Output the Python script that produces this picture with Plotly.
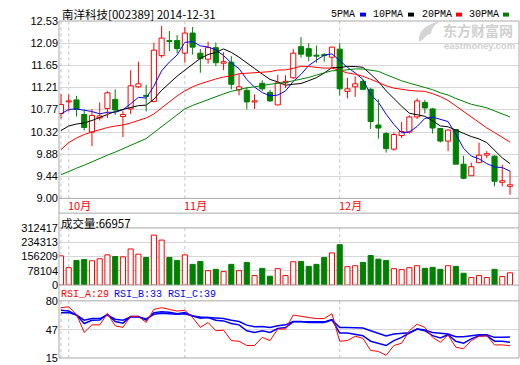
import plotly.graph_objects as go
import pandas as pd

# ---------------- data ----------------
opens = [10.69, 10.92, 10.96, 10.67, 10.32, 10.60, 10.79, 10.97, 10.63, 10.78,
         11.22, 11.05, 10.93, 11.84, 12.14, 12.14, 11.89, 12.29, 11.89, 11.77,
         12.00, 11.69, 11.71, 11.16, 11.15, 10.92, 11.29, 11.11, 10.86, 11.30,
         11.40, 12.02, 11.98, 11.85, 11.86, 11.81, 11.97, 11.13, 11.22, 11.33,
         11.17, 10.46, 10.29, 9.98, 10.25, 10.32, 10.62, 10.91, 10.78, 10.39,
         10.14, 10.37, 9.68, 9.45, 9.71, 9.86, 9.84, 9.32, 9.24]
highs = [11.07, 11.07, 11.04, 10.77, 10.78, 10.91, 11.13, 11.17, 10.74, 11.55,
         11.72, 11.26, 12.10, 12.43, 12.33, 12.25, 12.41, 12.41, 11.97, 12.12,
         12.10, 11.91, 11.83, 11.47, 11.21, 11.07, 11.35, 11.16, 11.46, 11.45,
         11.97, 12.21, 12.09, 12.04, 11.89, 12.02, 12.09, 11.40, 11.43, 11.37,
         11.20, 10.97, 10.32, 10.31, 10.52, 10.65, 10.99, 10.96, 10.80, 10.40,
         10.37, 10.38, 9.85, 9.71, 10.11, 9.94, 9.86, 9.67, 9.55]
lows = [10.59, 10.73, 10.63, 10.35, 10.04, 10.55, 10.60, 10.66, 10.22, 10.68,
        11.20, 10.73, 10.91, 11.80, 11.93, 11.89, 11.70, 11.86, 11.50, 11.68,
        11.63, 11.55, 11.17, 11.05, 10.77, 10.78, 11.14, 10.92, 10.86, 11.20,
        11.38, 11.80, 11.73, 11.70, 11.72, 11.60, 11.05, 10.99, 11.02, 11.15,
        10.38, 10.19, 9.91, 9.95, 10.20, 10.29, 10.58, 10.69, 10.29, 10.11,
        9.94, 9.68, 9.38, 9.45, 9.70, 9.80, 9.24, 9.24, 9.07]
closes = [10.87, 10.94, 10.77, 10.41, 10.65, 10.64, 11.10, 10.76, 10.67, 11.24,
          11.28, 11.03, 11.95, 12.19, 12.12, 11.98, 12.29, 12.01, 11.78, 12.00,
          11.70, 11.72, 11.27, 11.22, 10.92, 10.94, 11.18, 10.94, 11.30, 11.33,
          11.89, 11.87, 11.83, 11.83, 11.84, 12.01, 11.18, 11.18, 11.28, 11.17,
          10.53, 10.40, 9.99, 10.27, 10.33, 10.62, 10.94, 10.80, 10.40, 10.14,
          10.36, 9.68, 9.40, 9.63, 9.86, 9.89, 9.34, 9.35, 9.27]
volumes = [159800, 95200, 134700, 140000, 132900, 143600, 165200, 156200, 154400, 197500,
           168800, 150800, 272900, 246000, 150800, 134700, 165200, 113100, 129300, 79000,
           86200, 73600, 113100, 79000, 123900, 52000, 91600, 48500, 89800, 52000,
           127500, 129300, 102300, 113100, 150800, 176000, 220800, 100500, 105900, 123900,
           161600, 141800, 134700, 89800, 84400, 95200, 105900, 91600, 97000, 86200,
           105900, 102300, 64600, 41300, 52000, 41300, 86200, 46700, 66957]

# moving-average values visible before enough candles exist
ma5_head = [10.68, 10.77, 10.78, 10.75]
ma10_head = [10.35, 10.44, 10.48, 10.50, 10.55, 10.61, 10.68, 10.73, 10.77]
ma20_head = [9.97, 10.11, 10.20, 10.27, 10.32, 10.37, 10.41, 10.44, 10.46, 10.50,
             10.55, 10.60, 10.68, 10.80, 10.92, 11.04, 11.14, 11.22, 11.28]
ma30_head = [9.47, 9.54, 9.60, 9.66, 9.73, 9.79, 9.86, 9.92, 9.99, 10.05,
             10.12, 10.19, 10.31, 10.43, 10.55, 10.67, 10.78, 10.85, 10.91, 10.97,
             11.03, 11.08, 11.13, 11.17, 11.20, 11.22, 11.25, 11.27, 11.29]

rsi_a = [72.2, 73.3, 64.7, 44.1, 52.7, 52.7, 65.4, 51.6, 49.8, 62.4,
         62.4, 55.4, 70.3, 72.2, 70.3, 68.4, 69.2, 61.0, 49.8, 55.4,
         46.0, 46.7, 34.8, 34.1, 29.2, 29.2, 38.5, 34.8, 47.9, 47.9,
         63.9, 62.1, 61.0, 59.8, 59.8, 65.4, 34.1, 34.8, 39.7, 37.4,
         23.6, 22.5, 18.0, 29.2, 31.8, 46.0, 53.5, 49.8, 38.5, 32.9,
         41.1, 27.3, 25.5, 34.8, 39.7, 40.4, 29.9, 29.9, 29]
rsi_b = [69.2, 68.4, 63.9, 54.2, 58.0, 58.3, 64.7, 56.5, 54.6, 62.1,
         62.1, 58.0, 66.6, 67.7, 66.9, 65.4, 66.6, 62.8, 60.2, 61.0,
         58.0, 57.2, 54.2, 52.7, 46.0, 44.1, 46.0, 44.1, 48.6, 49.7,
         56.1, 56.1, 56.1, 56.1, 56.1, 58.7, 43.4, 43.4, 42.3, 40.4,
         34.1, 31.8, 29.2, 34.8, 38.5, 43.4, 47.9, 46.0, 40.4, 37.8,
         41.5, 34.1, 31.8, 36.7, 40.4, 40.4, 34.1, 34.1, 33]
rsi_c = [66.6, 66.6, 63.9, 58.0, 59.8, 59.8, 63.9, 59.1, 58.0, 61.7,
         61.7, 59.5, 64.7, 65.8, 65.4, 64.7, 65.4, 62.8, 61.7, 61.3,
         60.2, 59.8, 58.0, 56.5, 52.4, 50.5, 50.9, 49.7, 51.6, 52.7,
         56.5, 56.5, 55.3, 55.3, 55.3, 58.3, 49.7, 49.7, 49.7, 49.0,
         46.0, 43.0, 40.0, 42.3, 43.0, 43.8, 47.9, 46.8, 44.1, 43.0,
         42.3, 39.3, 39.3, 40.4, 41.5, 41.5, 38.5, 38.5, 39]

price_ticks = [12.53, 12.09, 11.65, 11.21, 10.77, 10.32, 9.88, 9.44, 9.00]
vol_ticks = [0, 78104, 156209, 234313, 312417]
rsi_ticks = [15, 47, 80]
month_labels = ["10月", "11月", "12月"]
month_starts = [1, 16, 36]
divider_idx = [0, 1, 16, 36]
stock_title = "南洋科技[002389] 2014-12-31"
ma_names = ["5PMA", "10PMA", "20PMA", "30PMA"]

# ---------------- derived ----------------
n = len(closes)
idx = list(range(n))
RED, GREEN, BLUE, BLACK = "#ff0000", "#008000", "#0000ff", "#000000"
ma_colors = [BLUE, BLACK, RED, GREEN]


def moving(head, period):
    vals = pd.Series(closes).rolling(period).mean().tolist()
    for i, v in enumerate(head):
        vals[i] = v
    return vals


mas = [moving(ma5_head, 5), moving(ma10_head, 10), moving(ma20_head, 20), moving(ma30_head, 30)]

up = [c >= o for o, c in zip(opens, closes)]
body_lo = [min(o, c) for o, c in zip(opens, closes)]
body_h = [max(abs(c - o), 0.01) for o, c in zip(opens, closes)]

# pixel helpers (figure 520x365, plot area x 59..519, y 21..363)
L, R, T, B = 59, 519, 21, 363


def px(x):
    return (x - L) / (R - L)


def py(y):
    return (B - y) / (B - T)


fig = go.Figure()

# MA lines
for name, vals, col in zip(ma_names, mas, ma_colors):
    fig.add_trace(go.Scatter(x=idx, y=vals, mode="lines", line=dict(color=col, width=1),
                             xaxis="x", yaxis="y", hoverinfo="skip"))

# candle bodies
fig.add_trace(go.Bar(x=idx, y=body_h, base=body_lo, width=0.66,
                     marker=dict(color=["#ffffff" if u else GREEN for u in up],
                                 line=dict(color=[RED if u else GREEN for u in up], width=1)),
                     xaxis="x", yaxis="y", hoverinfo="skip"))

# wicks (outside the body)
for want, col in ((True, RED), (False, GREEN)):
    wx, wy = [], []
    for i in idx:
        if up[i] != want:
            continue
        lo_b = body_lo[i]
        hi_b = body_lo[i] + body_h[i]
        wx += [i, i, None, i, i, None]
        wy += [lows[i], lo_b, None, hi_b, highs[i], None]
    fig.add_trace(go.Scatter(x=wx, y=wy, mode="lines", line=dict(color=col, width=1),
                             xaxis="x", yaxis="y", hoverinfo="skip", connectgaps=False))

# volume
fig.add_trace(go.Bar(x=idx, y=volumes, width=0.66,
                     marker=dict(color=["#ffffff" if u else GREEN for u in up],
                                 line=dict(color=[RED if u else GREEN for u in up], width=1)),
                     xaxis="x", yaxis="y2", hoverinfo="skip"))

# RSI
fig.add_trace(go.Scatter(x=idx, y=rsi_c, mode="lines", line=dict(color=BLUE, width=1.5),
                         xaxis="x", yaxis="y3", hoverinfo="skip"))
fig.add_trace(go.Scatter(x=idx, y=rsi_b, mode="lines", line=dict(color=BLUE, width=1.5),
                         xaxis="x", yaxis="y3", hoverinfo="skip"))
fig.add_trace(go.Scatter(x=idx, y=rsi_a, mode="lines", line=dict(color=RED, width=1),
                         xaxis="x", yaxis="y3", hoverinfo="skip"))

GRID = "#d6d6d6"
BORDER = "#a8a8a8"
tickfont = dict(family="Liberation Sans, Arial", size=11, color="#000000")

common_y = dict(showline=False, zeroline=False, ticks="", tickfont=tickfont,
                showgrid=True, gridcolor=GRID, gridwidth=1, fixedrange=True)

fig.update_layout(
    width=520, height=365,
    margin=dict(l=L, r=520 - R, t=T, b=365 - B, pad=0),
    paper_bgcolor="#ffffff", plot_bgcolor="#ffffff",
    showlegend=False, barmode="overlay",
    xaxis=dict(range=[-0.258, 59.16], showticklabels=False, showgrid=False,
               zeroline=False, showline=False, ticks="", fixedrange=True),
    yaxis=dict(domain=[py(201), py(21)], range=[9.00, 12.53],
               tickvals=price_ticks, ticktext=[f"{v:.2f}" for v in price_ticks], **common_y),
    yaxis2=dict(domain=[py(289), py(231)], range=[0, 312417],
                tickvals=vol_ticks, ticktext=[str(v) for v in vol_ticks], **common_y),
    yaxis3=dict(domain=[py(363), py(305)], range=[15, 80],
                tickvals=rsi_ticks, ticktext=[str(v) for v in rsi_ticks], **common_y),
)

shapes = []
# frame and separators
shapes.append(dict(type="rect", xref="paper", yref="paper", x0=0, x1=1, y0=0, y1=1,
                   line=dict(color=BORDER, width=1), layer="above"))
for yy in (201, 216, 231, 289, 305):
    shapes.append(dict(type="line", xref="paper", yref="paper", x0=0, x1=1,
                       y0=py(yy), y1=py(yy), line=dict(color=BORDER, width=1), layer="above"))
# dashed month dividers
for d in divider_idx:
    for (ya, yb) in ((21, 201), (231, 289), (305, 363)):
        shapes.append(dict(type="line", xref="x", yref="paper", x0=d, x1=d,
                           y0=py(yb), y1=py(ya),
                           line=dict(color="#c4c4c4", width=1, dash="3px,3px"), layer="below"))
# legend squares
for col, xs in zip(ma_colors, (360, 408, 456, 503)):
    shapes.append(dict(type="rect", xref="paper", yref="paper", x0=px(xs), x1=px(xs + 6),
                       y0=py(16.5), y1=py(12.5), fillcolor=col, line=dict(width=0), layer="above"))


# watermark logo (light swoosh)
def P(x, y):
    return f"{px(x):.5f},{py(y):.5f}"


logo_path = (f"M {P(419,42)} Q {P(417,27)} {P(440,21)} Q {P(431,27)} {P(431,34)} "
             f"Q {P(426,35)} {P(423,40)} Z")
shapes.append(dict(type="path", xref="paper", yref="paper", path=logo_path,
                   fillcolor="#d4d4d4", line=dict(width=0), layer="above"))
fig.update_layout(shapes=shapes)

ann = []
cjk = "Noto Sans CJK SC"
mono = "Liberation Mono"
ann.append(dict(text=stock_title, xref="paper", yref="paper", x=px(61), y=py(14),
                xanchor="left", yanchor="middle", showarrow=False, borderpad=0,
                font=dict(family=cjk, size=11.5, color="#000000")))
for name, xs in zip(ma_names, (330, 372, 421, 468)):
    ann.append(dict(text=name, xref="paper", yref="paper", x=px(xs), y=py(14),
                    xanchor="left", yanchor="middle", showarrow=False, borderpad=0,
                    font=dict(family=mono, size=10, color="#000000")))
ann.append(dict(text=f"成交量:{volumes[-1]}", xref="paper", yref="paper", x=px(59.5), y=py(225.5),
                xanchor="left", yanchor="middle", showarrow=False, borderpad=0,
                font=dict(family=cjk, size=11.5, color="#000000")))
for lab, val, col, xs in (("RSI_A", rsi_a[-1], RED, 59.5), ("RSI_B", rsi_b[-1], BLUE, 112.5),
                          ("RSI_C", rsi_c[-1], BLUE, 166.5)):
    ann.append(dict(text=f"{lab}:{val:.0f}", xref="paper", yref="paper", x=px(xs), y=py(298.5),
                    xanchor="left", yanchor="middle", showarrow=False, borderpad=0,
                    font=dict(family=mono, size=10, color=col)))
for lab, pos in zip(month_labels, month_starts):
    ann.append(dict(text=lab, xref="x", yref="paper", x=pos, xshift=-2, y=py(207.5),
                    xanchor="left", yanchor="middle", showarrow=False, borderpad=0,
                    font=dict(family=cjk, size=11, color=RED)))
ann.append(dict(text="<b>东方财富网</b>", xref="paper", yref="paper", x=px(442), y=py(30),
                xanchor="left", yanchor="middle", showarrow=False, borderpad=0,
                font=dict(family=cjk, size=14, color="#d0d0d0")))
ann.append(dict(text="<b>eastmoney.com</b>", xref="paper", yref="paper", x=px(443), y=py(45.5),
                xanchor="left", yanchor="middle", showarrow=False, borderpad=0,
                font=dict(family="Liberation Sans, Arial", size=9.5, color="#d0d0d0")))
fig.update_layout(annotations=ann)

fig.write_html("out.html", config={"displayModeBar": False, "staticPlot": True},
               post_script="document.documentElement.style.margin='0';"
                           "document.body.style.margin='0';document.body.style.padding='0';"
                           "document.body.style.overflow='hidden';")
